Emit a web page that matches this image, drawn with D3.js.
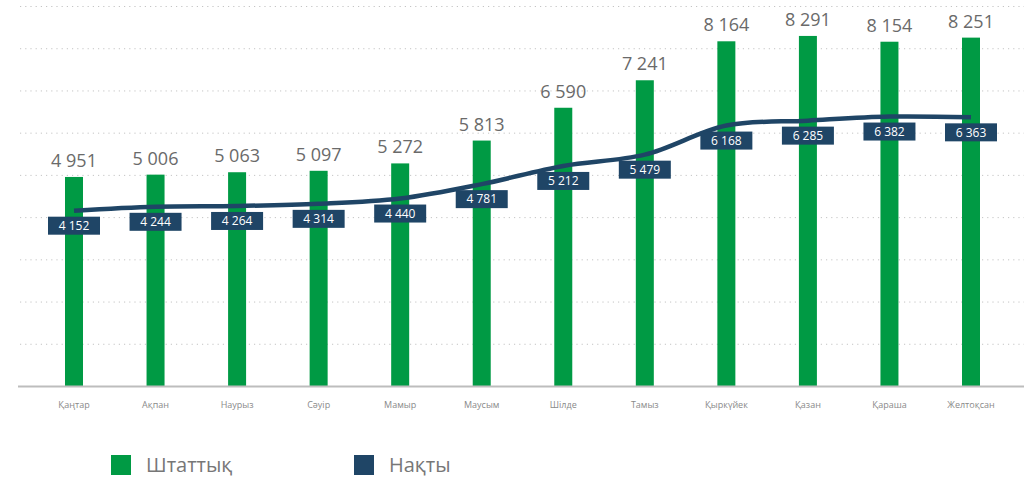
<!DOCTYPE html>
<html>
<head>
<meta charset="utf-8">
<script src="https://cdn.jsdelivr.net/npm/d3@7"></script>
<style>
  html, body { margin: 0; padding: 0; background: #fff; }
  svg { display: block; }
</style>
</head>
<body>
<svg id="chart" width="1024" height="478"></svg>
<script>
// Months (Kazakh)
const months = ["Қаңтар", "Ақпан", "Наурыз", "Сәуір", "Мамыр", "Маусым", "Шілде", "Тамыз", "Қыркүйек", "Қазан", "Қараша", "Желтоқсан"];
// Staff positions (bars)
const staffed = [4951, 5006, 5063, 5097, 5272, 5813, 6590, 7241, 8164, 8291, 8154, 8251];
// Actual headcount (line)
const actual = [4152, 4244, 4264, 4314, 4440, 4781, 5212, 5479, 6168, 6285, 6382, 6363];
// Legend entries
const seriesNames = ["Штаттық", "Нақты"];
// Gridline values
const gridTicks = [1000, 2000, 3000, 4000, 5000, 6000, 7000, 8000, 9000];

const GREEN = "#009a44";
const NAVY = "#1f4566";
const FONT = "'Open Sans', 'Noto Sans', sans-serif";
const fmt = v => d3.format(",")(v).replace(/,/g, " ");

const svg = d3.select("#chart");

const x = d3.scalePoint().domain(months).range([74, 971]);
const y = d3.scaleLinear().domain([0, 9000]).range([386, 6]);
const barW = 18;

// dotted gridlines
svg.append("g").selectAll("line").data(gridTicks).join("line")
  .attr("x1", 20).attr("x2", 1024)
  .attr("y1", d => y(d) + 0.5).attr("y2", d => y(d) + 0.5)
  .attr("stroke", "#c4c4c4").attr("stroke-width", 1)
  .attr("stroke-dasharray", "1.2 4");

// bars
svg.append("g").selectAll("rect").data(staffed).join("rect")
  .attr("x", (d, i) => x(months[i]) - barW / 2)
  .attr("width", barW)
  .attr("y", d => y(d))
  .attr("height", d => y(0) - y(d))
  .attr("fill", GREEN);

// baseline
svg.append("line")
  .attr("x1", 18).attr("x2", 1024)
  .attr("y1", y(0) + 0.5).attr("y2", y(0) + 0.5)
  .attr("stroke", "#bdbdbd").attr("stroke-width", 2);

// month labels
svg.append("g").selectAll("text").data(months).join("text")
  .attr("x", d => x(d)).attr("y", 408)
  .attr("text-anchor", "middle")
  .attr("font-family", FONT).attr("font-size", 9)
  .attr("fill", "#8a8a8a")
  .text(d => d);

// bar value labels
svg.append("g").selectAll("text").data(staffed).join("text")
  .attr("x", (d, i) => x(months[i]))
  .attr("y", d => y(d) - 10)
  .attr("text-anchor", "middle")
  .attr("font-family", FONT).attr("font-size", 18)
  .attr("fill", "#6a6a6a")
  .text(d => fmt(d));

// actual line
const line = d3.line()
  .x((d, i) => x(months[i]))
  .y(d => y(d))
  .curve(d3.curveCatmullRom.alpha(0.5));

svg.append("path")
  .datum(actual)
  .attr("d", line)
  .attr("fill", "none")
  .attr("stroke", NAVY)
  .attr("stroke-width", 4.5);

// line value labels in boxes
const lab = svg.append("g").selectAll("g").data(actual).join("g")
  .attr("transform", (d, i) => `translate(${x(months[i])},${y(d) + 15})`);
lab.append("rect")
  .attr("x", -26).attr("y", -9)
  .attr("width", 52).attr("height", 18)
  .attr("fill", NAVY);
lab.append("text")
  .attr("text-anchor", "middle")
  .attr("dy", "0.36em")
  .attr("font-family", FONT).attr("font-size", 12)
  .attr("fill", "#fff")
  .text(d => fmt(d));

// legend
const legendX = [111, 354];
const legendColors = [GREEN, NAVY];
const lg = svg.append("g").selectAll("g").data(seriesNames).join("g")
  .attr("transform", (d, i) => `translate(${legendX[i]},455)`);
lg.append("rect")
  .attr("width", 20).attr("height", 20)
  .attr("fill", (d, i) => legendColors[i]);
lg.append("text")
  .attr("x", 35).attr("y", 17)
  .attr("font-family", FONT).attr("font-size", 20)
  .attr("fill", "#777")
  .text(d => d);
</script>
</body>
</html>
